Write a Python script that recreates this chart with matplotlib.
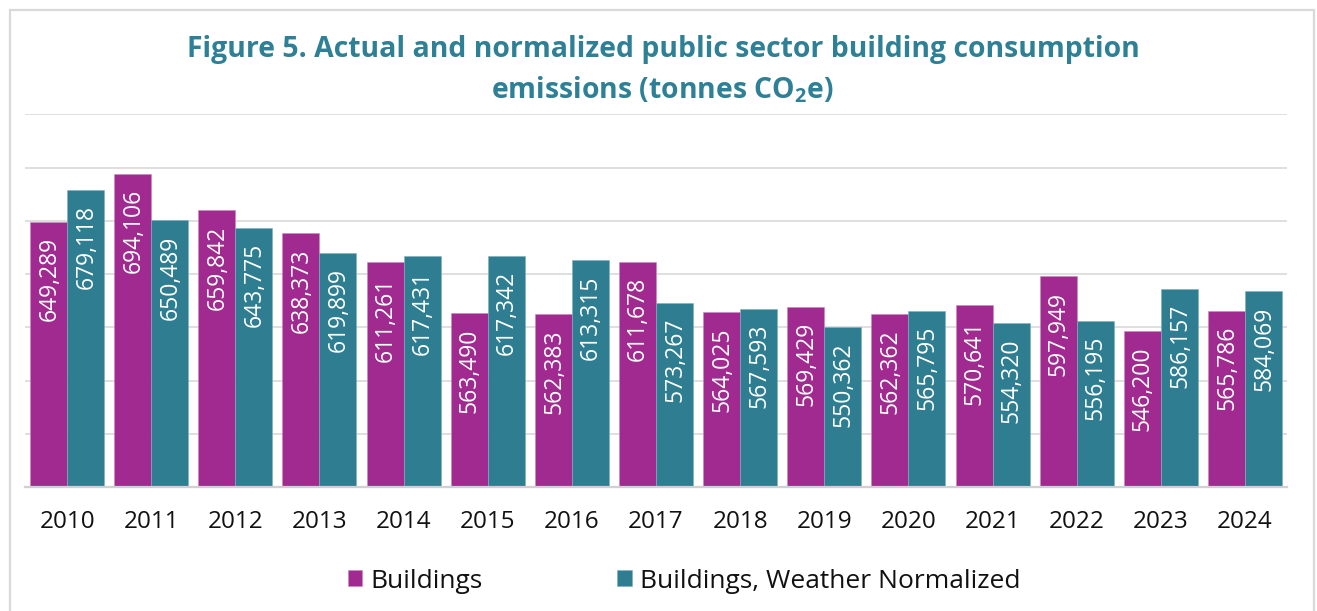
import matplotlib
matplotlib.use("Agg")
import matplotlib.pyplot as plt
from matplotlib.patches import Rectangle
import numpy as np

years = ["2010", "2011", "2012", "2013", "2014", "2015", "2016", "2017",
         "2018", "2019", "2020", "2021", "2022", "2023", "2024"]
buildings = [649289, 694106, 659842, 638373, 611261, 563490, 562383, 611678,
             564025, 569429, 562362, 570641, 597949, 546200, 565786]
normalized = [679118, 650489, 643775, 619899, 617431, 617342, 613315, 573267,
              567593, 550362, 565795, 554320, 556195, 586157, 584069]
series_names = ["Buildings", "Buildings, Weather Normalized"]

MAGENTA = "#A02A8F"
TEAL = "#2E7D91"
TITLE_C = "#2E8096"
GRID_C = "#D9D9D9"

plt.rcParams['font.family'] = ['Open Sans', 'DejaVu Sans']
plt.rcParams['mathtext.fontset'] = 'custom'
plt.rcParams['mathtext.rm'] = 'Open Sans:bold'
plt.rcParams['mathtext.bf'] = 'Open Sans:bold'

W, H = 1317, 611
fig = plt.figure(figsize=(W / 100, H / 100), dpi=100)
fig.patch.set_facecolor("white")

# outer border
fig.patches.append(Rectangle((10 / W, -0.1), (1314 - 10) / W, 1.1 - 10 / H,
                             transform=fig.transFigure, fill=False,
                             edgecolor=GRID_C, linewidth=1.6, zorder=0))

ax = fig.add_axes([25 / W, 1 - 487.3 / H, (1287 - 25) / W, (487.3 - 114.3) / H])
x = np.arange(len(years))
w = 0.44
b1 = ax.bar(x - w / 2, buildings, width=w, color=MAGENTA, edgecolor="#C58BBB",
            linewidth=0.4, label=series_names[0], zorder=2)
b2 = ax.bar(x + w / 2, normalized, width=w, color=TEAL, edgecolor="#7FAFBD",
            linewidth=0.4, label=series_names[1], zorder=2)

ax.set_ylim(400000, 750000)
ax.set_xlim(-0.5, len(years) - 0.5)
ax.set_yticks(np.arange(400000, 750001, 50000))
ax.yaxis.grid(True, color=GRID_C, linewidth=1.2, zorder=0)
ax.set_axisbelow(True)
ax.tick_params(axis='y', left=False, labelleft=False)
ax.set_xticks(x)
ax.set_xticklabels(years, fontsize=17.5, color="#111111")
ax.tick_params(axis='x', length=0, pad=16)
for s in ["top", "right", "left"]:
    ax.spines[s].set_visible(False)
ax.spines["bottom"].set_color("#D0D0D0")
ax.spines["bottom"].set_linewidth(1.6)
ax.spines["bottom"].set_zorder(3)

for bars, vals in ((b1, buildings), (b2, normalized)):
    for rect, v in zip(bars, vals):
        ax.annotate(f"{v:,}", (rect.get_x() + rect.get_width() / 2, v),
                    xytext=(0.5, -11), textcoords="offset points",
                    rotation=90, ha="center", va="top", color="white",
                    fontsize=16.5, zorder=4)

fig.text(663 / W, 1 - 50 / H,
         "Figure 5. Actual and normalized public sector building consumption",
         ha="center", va="center", fontsize=20.4, fontweight="bold", color=TITLE_C)
fig.text(663 / W, 1 - 90 / H, r"emissions (tonnes CO$_{2}$e)",
         ha="center", va="center", fontsize=20.4, fontweight="bold", color=TITLE_C)

leg = fig.legend(handles=[b1, b2], labels=series_names, loc="center",
                 bbox_to_anchor=(684 / W, 1 - 581 / H), ncol=2, frameon=False,
                 fontsize=19, handlelength=0.55, handleheight=0.55,
                 handletextpad=0.3, columnspacing=5.1)
for t in leg.get_texts():
    t.set_color("#111111")

fig.savefig("out.png", dpi=100)
